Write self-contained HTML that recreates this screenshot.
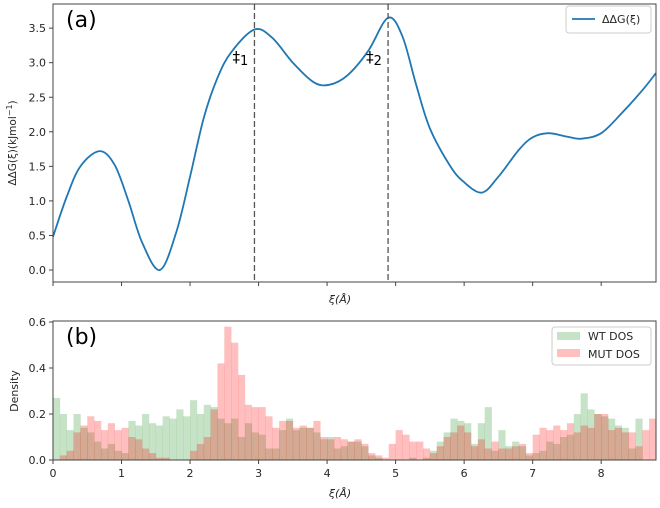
<!DOCTYPE html>
<html><head><meta charset="utf-8"><style>
body{margin:0;background:#fff;font-family:"Liberation Sans","DejaVu Sans",sans-serif}
svg text{font-family:"DejaVu Sans","Liberation Sans",sans-serif;fill:#262626}
</style></head><body>
<svg id="c" width="660" height="503" xmlns="http://www.w3.org/2000/svg"></svg>
<script>
const curveX=[0,0.2,0.4,0.68,0.9,1.1,1.3,1.56,1.8,2.0,2.2,2.4,2.6,2.94,3.2,3.5,3.8,4.03,4.3,4.6,4.89,5.1,5.3,5.5,5.8,6.0,6.26,6.5,6.8,7.0,7.23,7.5,7.71,8.0,8.3,8.6,8.8];
const curveY=[0.48,1.06,1.5,1.72,1.52,1.0,0.4,0.0,0.55,1.35,2.2,2.78,3.15,3.48,3.36,3.0,2.72,2.68,2.82,3.17,3.65,3.38,2.68,2.05,1.5,1.27,1.12,1.35,1.74,1.92,1.98,1.93,1.9,1.98,2.27,2.6,2.85];
const barriers=[2.94,4.89];
const yTicksTop=[0,0.5,1,1.5,2,2.5,3,3.5];
const xTicks=[0,1,2,3,4,5,6,7,8];
const yTicksBot=[0,0.2,0.4,0.6];
const binWidth=0.1;
const wt=[0.27,0.2,0.13,0.2,0.14,0.12,0.08,0.05,0.07,0.04,0.03,0.17,0.15,0.2,0.16,0.15,0.19,0.18,0.22,0.19,0.26,0.2,0.24,0.23,0.18,0.16,0.18,0.1,0.16,0.12,0.11,0.05,0.05,0.13,0.18,0.13,0.14,0.14,0.12,0.09,0.1,0.05,0.06,0.08,0.08,0.06,0.02,0.01,0,0,0,0,0.01,0,0.01,0.04,0.08,0.12,0.18,0.17,0.16,0.07,0.16,0.23,0.04,0.13,0.06,0.08,0.06,0.02,0.03,0.04,0.08,0.07,0.1,0.11,0.2,0.29,0.22,0.2,0.19,0.18,0.15,0.14,0.05,0.18,0,0];
const mut=[0,0.02,0.04,0.12,0.15,0.19,0.17,0.13,0.16,0.13,0.14,0.1,0.09,0.05,0.03,0.01,0.01,0,0,0,0.04,0.07,0.1,0.22,0.42,0.58,0.51,0.37,0.24,0.23,0.23,0.19,0.14,0.17,0.17,0.14,0.15,0.14,0.17,0.1,0.09,0.1,0.09,0.08,0.09,0.07,0.03,0.02,0.01,0.07,0.13,0.11,0.08,0.08,0.05,0.03,0.06,0.1,0.12,0.15,0.12,0.06,0.09,0.05,0.08,0.05,0.05,0.06,0.07,0.03,0.11,0.14,0.13,0.15,0.13,0.16,0.12,0.15,0.14,0.2,0.2,0.13,0.14,0.12,0.12,0.06,0.13,0.18];

const S=document.getElementById('c'),NS='http://www.w3.org/2000/svg';
function mk(t,a,txt){const e=document.createElementNS(NS,t);for(const k in a)e.setAttribute(k,a[k]);if(txt!==undefined)e.textContent=txt;S.appendChild(e);return e;}
const L=53,R=656,XMAX=8.8;
const sx=v=>L+v*(R-L)/XMAX;
const T1=4,B1=282,syT=v=>270-v*69.1;
const T2=321,B2=460,syB=v=>460-v*230;

let pts=curveX.map((x,i)=>[sx(x),syT(curveY[i])]);
let d='M'+pts[0][0]+','+pts[0][1];
for(let i=0;i<pts.length-1;i++){const p0=pts[Math.max(0,i-1)],p1=pts[i],p2=pts[i+1],p3=pts[Math.min(pts.length-1,i+2)];
d+=' C'+(p1[0]+(p2[0]-p0[0])/6)+','+(p1[1]+(p2[1]-p0[1])/6)+' '+(p2[0]-(p3[0]-p1[0])/6)+','+(p2[1]-(p3[1]-p1[1])/6)+' '+p2[0]+','+p2[1];}
let e=mk('path',{d:d,fill:'none',stroke:'#1f77b4','stroke-width':1.8});


barriers.forEach((b,i)=>{const l=mk('line',{x1:sx(b),x2:sx(b),y1:T1,y2:B1,stroke:'#555','stroke-width':1.3,'stroke-dasharray':'6,3'});

});
e=mk('text',{x:sx(barriers[0])-22,y:62,'font-size':15,style:'fill:#000'});e.innerHTML='‡<tspan font-size="13" dy="3">1</tspan>';

e=mk('text',{x:sx(barriers[1])-22,y:62,'font-size':15,style:'fill:#000'});e.innerHTML='‡<tspan font-size="13" dy="3">2</tspan>';

mk('rect',{x:L,y:T1,width:R-L,height:B1-T1,fill:'none',stroke:'#444','stroke-width':1});
yTicksTop.forEach(v=>{mk('line',{x1:L-4,x2:L,y1:syT(v),y2:syT(v),stroke:'#444'});
const t=mk('text',{x:L-7,y:syT(v)+4,'font-size':11,'text-anchor':'end'},v.toFixed(1));
});
xTicks.forEach(v=>mk('line',{x1:sx(v),x2:sx(v),y1:B1,y2:B1+4,stroke:'#444'}));
e=mk('text',{x:340,y:303,'font-size':11,'text-anchor':'middle','font-style':'italic'},'ξ(Å)');
e=mk('text',{x:0,y:0,'font-size':10.5,'text-anchor':'middle',transform:'translate(16,143) rotate(-90)'});e.innerHTML='ΔΔG(ξ)(kJmol<tspan dy="-4" font-size="8">−1</tspan><tspan dy="4">)</tspan>';

e=mk('text',{x:66,y:27,'font-size':22,style:'fill:#000'},'(a)');
const lg=mk('g',{});
mk('rect',{x:566,y:6,width:85,height:27,rx:3,fill:'#fff',stroke:'#ccc'});
mk('line',{x1:572,x2:595,y1:19,y2:19,stroke:'#1f77b4','stroke-width':1.8});
mk('text',{x:602,y:23,'font-size':11},'ΔΔG(ξ)');

const bw=sx(binWidth)-sx(0);
wt.forEach((v,i)=>{if(v<=0)return;const r=mk('rect',{x:sx(i*binWidth),y:syB(v),width:bw+0.3,height:B2-syB(v),fill:'rgb(0,128,0)','fill-opacity':0.22});
});
mut.forEach((v,i)=>{if(v<=0||i*binWidth>=XMAX)return;const w=Math.min(bw+0.3,R-sx(i*binWidth));const r=mk('rect',{x:sx(i*binWidth),y:syB(v),width:w,height:B2-syB(v),fill:'rgb(255,0,0)','fill-opacity':0.25});
});
mk('rect',{x:L,y:T2,width:R-L,height:B2-T2,fill:'none',stroke:'#444','stroke-width':1});
yTicksBot.forEach(v=>{mk('line',{x1:L-4,x2:L,y1:syB(v),y2:syB(v),stroke:'#444'});
const t=mk('text',{x:L-7,y:syB(v)+4,'font-size':11,'text-anchor':'end'},v.toFixed(1));
});
xTicks.forEach(v=>{mk('line',{x1:sx(v),x2:sx(v),y1:B2,y2:B2+4,stroke:'#444'});
const t=mk('text',{x:sx(v),y:B2+17,'font-size':11,'text-anchor':'middle'},String(v));
});
e=mk('text',{x:340,y:497,'font-size':11,'text-anchor':'middle','font-style':'italic'},'ξ(Å)');
e=mk('text',{x:0,y:0,'font-size':11,'text-anchor':'middle',transform:'translate(18,391) rotate(-90)'},'Density');
e=mk('text',{x:66,y:344,'font-size':22,style:'fill:#000'},'(b)');
const lg2=mk('g',{});
mk('rect',{x:552,y:327,width:99,height:38,rx:3,fill:'#fff',stroke:'#ccc'});
mk('rect',{x:557,y:332,width:23,height:8,fill:'rgb(0,128,0)','fill-opacity':0.22});
mk('text',{x:588,y:340,'font-size':11},'WT DOS');
mk('rect',{x:557,y:349,width:23,height:8,fill:'rgb(255,0,0)','fill-opacity':0.25});
mk('text',{x:588,y:358,'font-size':11},'MUT DOS');
</script>
</body></html>
